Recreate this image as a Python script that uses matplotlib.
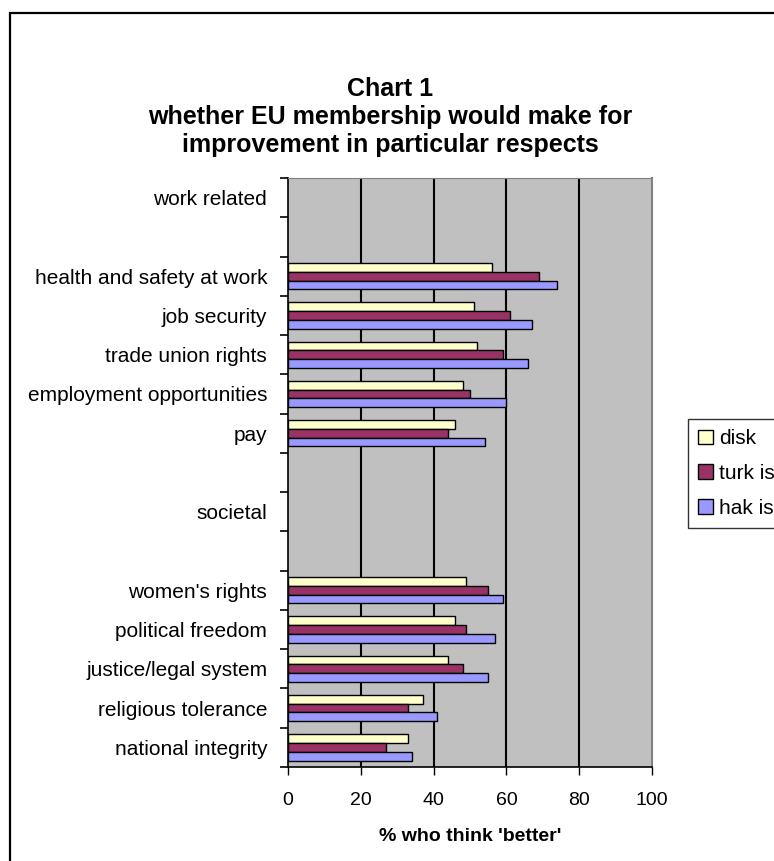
import matplotlib
matplotlib.use("Agg")
import matplotlib.pyplot as plt
from matplotlib.patches import Rectangle
import numpy as np

plt.rcParams['font.family'] = ['Liberation Sans', 'DejaVu Sans']

# rows top to bottom; '' rows are spacer rows, headers have no bars
categories = ['work related', '', 'health and safety at work', 'job security',
              'trade union rights', 'employment opportunities', 'pay', '',
              'societal', '', "women's rights", 'political freedom',
              'justice/legal system', 'religious tolerance', 'national integrity']
nan = np.nan
disk = [nan, nan, 56, 51, 52, 48, 46, nan, nan, nan, 49, 46, 44, 37, 33]
turk_is = [nan, nan, 69, 61, 59, 50, 44, nan, nan, nan, 55, 49, 48, 33, 27]
hak_is = [nan, nan, 74, 67, 66, 60, 54, nan, nan, nan, 59, 57, 55, 41, 34]
series_names = ['disk', 'turk is', 'hak is']
series_colors = ['#FFFFCC', '#993366', '#9999FF']
x_ticks = [0, 20, 40, 60, 80, 100]

W, H = 774, 861
fig = plt.figure(figsize=(W / 100, H / 100), dpi=100)

# outer chart border (runs off the right/bottom edge like the original)
fig.patches.append(Rectangle((10 / W, -0.05), 1.0, 1.05 - 13 / H, transform=fig.transFigure,
                             fill=False, edgecolor='black', linewidth=1.6))

ax = fig.add_axes([288 / W, 1 - 767 / H, (652 - 288) / W, (767 - 178) / H])
ax.set_facecolor('#C0C0C0')

y = np.arange(len(categories))
bar_h = 0.223
offsets = [-bar_h, 0, bar_h]
for vals, name, col, off in zip([disk, turk_is, hak_is], series_names, series_colors, offsets):
    vals = np.array(vals, dtype=float)
    mask = ~np.isnan(vals)
    ax.barh(y[mask] + off, vals[mask], height=bar_h, color=col, edgecolor='black',
            linewidth=1.0, label=name, zorder=3)

ax.set_xlim(0, 100)
ax.set_ylim(len(categories) - 0.5, -0.5)
ax.set_xticks(x_ticks)
ax.set_xticklabels([str(t) for t in x_ticks], fontsize=14)
ax.tick_params(axis='x', direction='out', length=6, width=1, pad=12)

ax.set_yticks(np.arange(len(categories) + 1) - 0.5)
ax.set_yticklabels([])
ax.set_yticks(y, minor=True)
ax.set_yticklabels(categories, minor=True, fontsize=15)
ax.tick_params(axis='y', which='major', direction='out', length=6, width=1.2)
ax.tick_params(axis='y', which='minor', length=0, pad=15)

for gx in x_ticks[1:-1]:
    ax.axvline(gx, color='black', linewidth=1.5, zorder=1)

ax.spines['left'].set_color('black')
ax.spines['bottom'].set_color('black')
ax.spines['left'].set_linewidth(1.2)
ax.spines['bottom'].set_linewidth(1.2)
ax.spines['top'].set_color('#808080')
ax.spines['right'].set_color('#808080')
ax.spines['right'].set_linewidth(1.5)

ax.set_xlabel("% who think 'better'", fontsize=14, fontweight='bold', labelpad=14)

fig.text(0.504, 1 - 117 / H,
         "Chart 1\nwhether EU membership would make for\nimprovement in particular respects",
         ha='center', va='center', fontsize=18, fontweight='bold', linespacing=1.2)

leg = fig.legend(loc='upper left', bbox_to_anchor=(688 / W, 1 - 419 / H),
                 fontsize=15, frameon=True, fancybox=False, edgecolor='black',
                 handlelength=0.7, handleheight=0.7, handletextpad=0.3,
                 labelspacing=0.75, borderpad=0.5, borderaxespad=0)
leg.get_frame().set_linewidth(1.0)

fig.savefig('out.png', dpi=100)
